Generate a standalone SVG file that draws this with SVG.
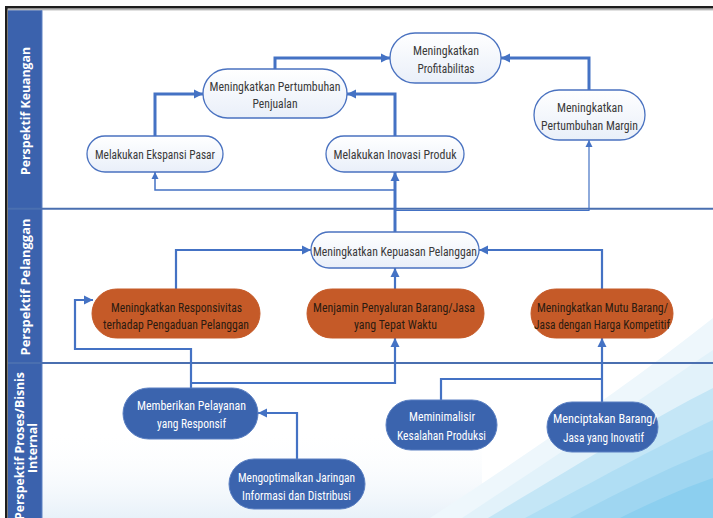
<svg xmlns="http://www.w3.org/2000/svg" width="713" height="518" viewBox="0 0 713 518">
  <defs>
    <linearGradient id="nodeWhite" x1="0" y1="0" x2="0" y2="1">
      <stop offset="0" stop-color="#ffffff"/>
      <stop offset="1" stop-color="#e9eff9"/>
    </linearGradient>
    <linearGradient id="haze" x1="0" y1="0" x2="0" y2="1">
      <stop offset="0" stop-color="#ffffff" stop-opacity="0"/>
      <stop offset="1" stop-color="#e8f1f9"/>
    </linearGradient>
    <marker id="ah" viewBox="0 0 10 10" refX="10" refY="5" markerUnits="userSpaceOnUse" markerWidth="9" markerHeight="11" orient="auto">
      <path d="M0,0 L10,5 L0,10 Z" fill="#4472c4"/>
    </marker>
    <marker id="ahs" viewBox="0 0 10 10" refX="10" refY="5" markerUnits="userSpaceOnUse" markerWidth="7" markerHeight="8" orient="auto">
      <path d="M0,0 L10,5 L0,10 Z" fill="#4472c4"/>
    </marker>
  </defs>
  <style>
    .lane-title { font-family: "Open Sans", "DejaVu Sans", sans-serif; font-weight: bold; font-size: 12px; fill: #ffffff; }
    .t { font-family: "Liberation Sans Narrow", "Roboto Condensed", "Lato", "Liberation Sans", sans-serif; font-size: 13px; text-anchor: middle; }
    .white-node rect { fill: url(#nodeWhite); stroke: #4a72c0; stroke-width: 1.3; }
    .white-node text { fill: #3a3a3a; }
    .orange-node rect { fill: #c55a28; stroke: #c55a28; stroke-width: 1; }
    .orange-node text { fill: #2b1a10; }
    .blue-node rect { fill: #3b64ae; stroke: #5a7fc2; stroke-width: 1; }
    .blue-node text { fill: #ffffff; }
    .c { fill: none; stroke: #4472c4; stroke-linejoin: miter; }
    .w3 { stroke-width: 3; marker-end: url(#ah); }
    .w2 { stroke-width: 2.2; marker-end: url(#ah); }
    .w2n { stroke-width: 2.2; }
    .w1 { stroke-width: 1.5; marker-end: url(#ahs); }
    .w1t { stroke-width: 1.2; marker-end: url(#ahs); }
  </style>

  <!-- page background and decorative swoosh, built from stacked bands -->
  <rect x="0" y="0" width="713" height="518" fill="#ffffff"/>
  <rect x="42" y="430" width="440" height="88" fill="url(#haze)"/>
  <g id="swoosh">
    <path d="M430,518 C530,452 630,384 713,318 L713,518 Z" fill="#eef7fc"/>
    <path d="M462,518 C550,460 640,400 713,350 L713,518 Z" fill="#e2f2fa"/>
    <path d="M488,518 C575,466 650,420 713,388 L713,518 Z" fill="#c4e6f6"/>
    <path d="M525,518 C600,478 662,444 713,420 L713,518 Z" fill="#b0def4"/>
    <path d="M570,518 C630,486 678,464 713,450 L713,518 Z" fill="#9fd6f1"/>
    <path d="M620,518 C660,498 690,486 713,478 L713,518 Z" fill="#8ccfef"/>
  </g>

  <!-- frame -->
  <g id="frame">
    <line x1="5" y1="7.2" x2="713" y2="7.2" stroke="#1e1e1e" stroke-width="2.6"/>
    <line x1="8" y1="9.8" x2="713" y2="9.8" stroke="#9a9a9a" stroke-width="1"/>
    <line x1="6.3" y1="6" x2="6.3" y2="518" stroke="#1e1e1e" stroke-width="2.6"/>
    <rect x="8" y="10.3" width="34" height="508" fill="#3b62ad"/>
    <line x1="42" y1="10.3" x2="42" y2="518" stroke="#5f82c3" stroke-width="1"/>
    <line x1="8" y1="208.8" x2="713" y2="208.8" stroke="#4a6fb0" stroke-width="2"/>
    <line x1="8" y1="363" x2="713" y2="363" stroke="#4a6fb0" stroke-width="2"/>
  </g>

  <!-- lane titles -->
  <g id="lane-keuangan">
    <text class="lane-title" transform="translate(25.5,111) rotate(-90)" text-anchor="middle" dominant-baseline="central" textLength="128" lengthAdjust="spacingAndGlyphs">Perspektif Keuangan</text>
  </g>
  <g id="lane-pelanggan">
    <text class="lane-title" transform="translate(25.5,287) rotate(-90)" text-anchor="middle" dominant-baseline="central" textLength="137" lengthAdjust="spacingAndGlyphs">Perspektif Pelanggan</text>
  </g>
  <g id="lane-proses">
    <text class="lane-title" transform="translate(19.5,446) rotate(-90)" text-anchor="middle" dominant-baseline="central" textLength="148" lengthAdjust="spacingAndGlyphs">Perspektif Proses/Bisnis</text>
    <text class="lane-title" transform="translate(32.5,448) rotate(-90)" text-anchor="middle" dominant-baseline="central" textLength="50" lengthAdjust="spacingAndGlyphs">Internal</text>
  </g>

  <!-- connectors -->
  <g id="connectors">
    <path class="c w3" d="M155,136 V94 H203"/>
    <path class="c w3" d="M275,69 V58 H390"/>
    <path class="c w3" d="M395,136 V94 H347"/>
    <path class="c w3" d="M589,90 V58 H501"/>
    <path class="c w3" d="M395,232 V172"/>
    <path class="c w1" d="M395,190 H155 V172"/>
    <path class="c w1t" d="M395,210.5 H589 V140"/>
    <path class="c w2" d="M176,289 V250 H311"/>
    <path class="c w2" d="M395,289 V268"/>
    <path class="c w2" d="M602,289 V250 H479"/>
    <path class="c w2" d="M191,388 V349 H75 V300 H93"/>
    <path class="c w2" d="M191,383 H395 V338"/>
    <path class="c w2n" d="M441,400 V379 H602"/>
    <path class="c w2" d="M602,402 V338"/>
    <path class="c w2" d="M297,459 V413 H258"/>
  </g>

  <!-- financial perspective -->
  <g id="n-profitabilitas" class="white-node">
    <rect x="390" y="33" width="111" height="50" rx="25"/>
    <text class="t" x="446" y="54.5" textLength="66" lengthAdjust="spacingAndGlyphs">Meningkatkan</text>
    <text class="t" x="446" y="72.5" textLength="57" lengthAdjust="spacingAndGlyphs">Profitabilitas</text>
  </g>
  <g id="n-penjualan" class="white-node">
    <rect x="203" y="69" width="144" height="49" rx="24.5"/>
    <text class="t" x="275" y="90.5" textLength="131" lengthAdjust="spacingAndGlyphs">Meningkatkan Pertumbuhan</text>
    <text class="t" x="275" y="107.5" textLength="45" lengthAdjust="spacingAndGlyphs">Penjualan</text>
  </g>
  <g id="n-margin" class="white-node">
    <rect x="534" y="90" width="111" height="50" rx="25"/>
    <text class="t" x="590" y="111.5" textLength="66" lengthAdjust="spacingAndGlyphs">Meningkatkan</text>
    <text class="t" x="589.5" y="129.5" textLength="97" lengthAdjust="spacingAndGlyphs">Pertumbuhan Margin</text>
  </g>
  <g id="n-ekspansi" class="white-node">
    <rect x="87" y="136" width="136" height="36" rx="18"/>
    <text class="t" x="155" y="158.5" textLength="120" lengthAdjust="spacingAndGlyphs">Melakukan Ekspansi Pasar</text>
  </g>
  <g id="n-inovasi" class="white-node">
    <rect x="326" y="136" width="138" height="36" rx="18"/>
    <text class="t" x="395" y="158.5" textLength="123" lengthAdjust="spacingAndGlyphs">Melakukan Inovasi Produk</text>
  </g>

  <!-- customer perspective -->
  <g id="n-kepuasan" class="white-node">
    <rect x="311" y="232" width="168" height="36" rx="18"/>
    <text class="t" x="395" y="255.5" textLength="164" lengthAdjust="spacingAndGlyphs">Meningkatkan Kepuasan Pelanggan</text>
  </g>
  <g id="n-responsivitas" class="orange-node">
    <rect x="92" y="289" width="168" height="49" rx="24.5"/>
    <text class="t" x="176.5" y="311.5" textLength="131" lengthAdjust="spacingAndGlyphs">Meningkatkan Responsivitas</text>
    <text class="t" x="176" y="328.5" textLength="146" lengthAdjust="spacingAndGlyphs">terhadap Pengaduan Pelanggan</text>
  </g>
  <g id="n-penyaluran" class="orange-node">
    <rect x="307" y="289" width="177" height="49" rx="24.5"/>
    <text class="t" x="394" y="311.5" textLength="162" lengthAdjust="spacingAndGlyphs">Menjamin Penyaluran Barang/Jasa</text>
    <text class="t" x="395.5" y="328.5" textLength="83" lengthAdjust="spacingAndGlyphs">yang Tepat Waktu</text>
  </g>
  <g id="n-mutu" class="orange-node">
    <rect x="531" y="289" width="142" height="49" rx="24.5"/>
    <text class="t" x="602.5" y="311.5" textLength="131" lengthAdjust="spacingAndGlyphs">Meningkatkan Mutu Barang/</text>
    <text class="t" x="602" y="328.5" textLength="136" lengthAdjust="spacingAndGlyphs">Jasa dengan Harga Kompetitif</text>
  </g>

  <!-- internal process perspective -->
  <g id="n-pelayanan" class="blue-node">
    <rect x="123" y="388" width="135" height="51" rx="25.5"/>
    <text class="t" x="191.5" y="409.5" textLength="109" lengthAdjust="spacingAndGlyphs">Memberikan Pelayanan</text>
    <text class="t" x="191.5" y="427.5" textLength="69" lengthAdjust="spacingAndGlyphs">yang Responsif</text>
  </g>
  <g id="n-jaringan" class="blue-node">
    <rect x="229" y="459" width="136" height="50" rx="25"/>
    <text class="t" x="296.5" y="481.5" textLength="117" lengthAdjust="spacingAndGlyphs">Mengoptimalkan Jaringan</text>
    <text class="t" x="296.5" y="499.5" textLength="109" lengthAdjust="spacingAndGlyphs">Informasi dan Distribusi</text>
  </g>
  <g id="n-kesalahan" class="blue-node">
    <rect x="386" y="400" width="111" height="50" rx="25"/>
    <text class="t" x="442" y="420.5" textLength="66" lengthAdjust="spacingAndGlyphs">Meminimalisir</text>
    <text class="t" x="441.5" y="439.5" textLength="89" lengthAdjust="spacingAndGlyphs">Kesalahan Produksi</text>
  </g>
  <g id="n-inovatif" class="blue-node">
    <rect x="547" y="402" width="111" height="50" rx="25"/>
    <text class="t" x="605" y="422.5" textLength="104" lengthAdjust="spacingAndGlyphs">Menciptakan Barang/</text>
    <text class="t" x="603.5" y="441.5" textLength="81" lengthAdjust="spacingAndGlyphs">Jasa yang Inovatif</text>
  </g>
</svg>
